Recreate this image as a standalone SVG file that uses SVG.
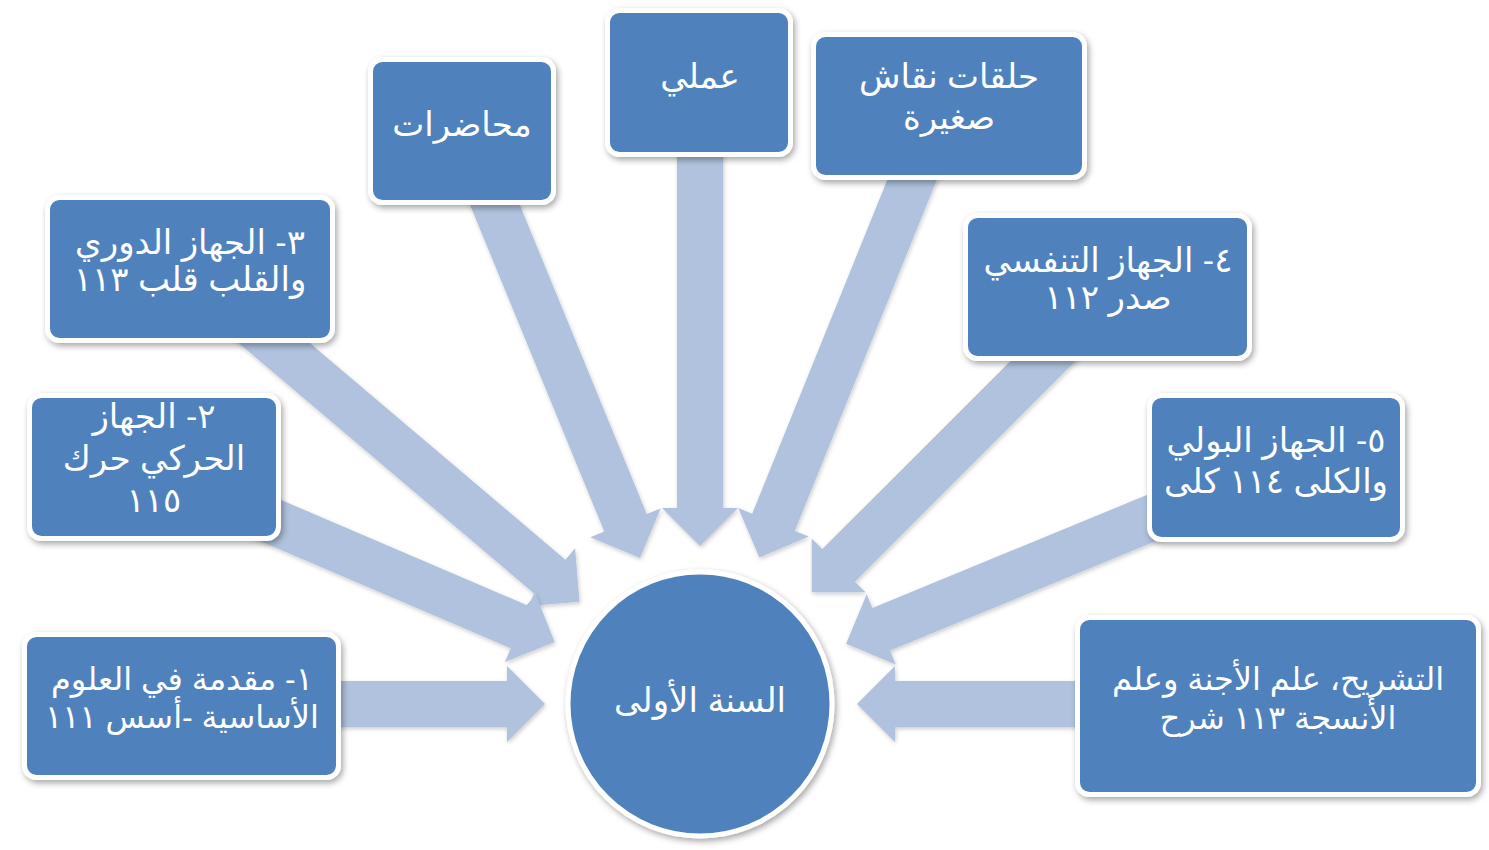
<svg xmlns="http://www.w3.org/2000/svg" width="1489" height="850" viewBox="0 0 1489 850">
<defs>
<filter id="sh" x="-10%" y="-10%" width="125%" height="130%">
<feDropShadow dx="2" dy="3" stdDeviation="3" flood-color="#000" flood-opacity="0.35"/>
</filter>
<filter id="ash" x="-10%" y="-10%" width="125%" height="130%">
<feDropShadow dx="1" dy="2" stdDeviation="2" flood-color="#000" flood-opacity="0.2"/>
</filter>
<style>
.box{fill:#4F81BD;stroke:#FFFFFF;stroke-width:5;filter:url(#sh)}
.arr{fill:#B0C2DD;filter:url(#ash)}
.t{fill:#FFFFFF;font-family:"Liberation Sans","DejaVu Sans",sans-serif;font-size:34px;text-anchor:middle;direction:rtl;unicode-bidi:embed}
.s{font-size:32px}
</style>
</defs>
<rect width="1489" height="850" fill="#FFFFFF"/>
<g id="connectors">
<polygon class="arr" points="451.1,158.7 604.3,531.6 590.4,537.3 640,558 660.7,508.4 646.8,514.1 493.7,141.3"/>
<polygon class="arr" points="677,120 677,508 662,508 700,546 738,508 723,508 723,120"/>
<polygon class="arr" points="902.8,141.4 752.2,513.7 738.3,508.1 759.3,557.5 808.7,536.6 794.8,530.9 945.4,158.6"/>
<polygon class="arr" points="208.6,317.5 535.6,594.7 525.9,606.2 579.5,601.8 575.1,548.2 565.4,559.7 238.4,282.5"/>
<polygon class="arr" points="191.0,511.4 510.8,648.2 504.9,661.9 554.7,641.9 534.7,592.1 528.8,605.9 209.0,469.1"/>
<polygon class="arr" points="250,681 507,681 507,666 545,704 507,742 507,727 250,727"/>
<polygon class="arr" points="1067.7,303.7 822.3,549.1 811.7,538.5 811.7,592.3 865.5,592.3 854.9,581.7 1100.3,336.3"/>
<polygon class="arr" points="1191.2,476.7 872.4,608.0 866.7,594.2 846.1,643.8 895.7,664.4 890.0,650.6 1208.8,519.3"/>
<polygon class="arr" points="1150,681 895,681 895,666 857,704 895,742 895,727 1150,727"/>
</g>
<g id="center">
<circle class="box" cx="700" cy="704" r="132"/>
<text class="t" x="700" y="712">السنة الأولى</text>
</g>
<g id="n-lectures">
<rect class="box" x="370.5" y="59.5" width="183" height="143" rx="12"/>
<text class="t" x="462" y="136">محاضرات</text>
</g>
<g id="n-practical">
<rect class="box" x="607.5" y="10.5" width="183" height="144" rx="12"/>
<text class="t" x="700" y="88">عملي</text>
</g>
<g id="n-discussion">
<rect class="box" x="813.5" y="34.5" width="271" height="143" rx="12"/>
<text class="t" x="949" y="88">حلقات نقاش</text>
<text class="t" x="949" y="129">صغيرة</text>
</g>
<g id="n-3">
<rect class="box" x="47.5" y="197.5" width="285" height="143" rx="12"/>
<text class="t" x="190" y="254">٣- الجهاز الدوري</text>
<text class="t" x="190" y="291">والقلب قلب ١١٣</text>
</g>
<g id="n-4">
<rect class="box" x="965.5" y="215.5" width="284" height="143" rx="12"/>
<text class="t" x="1108" y="272">٤- الجهاز التنفسي</text>
<text class="t" x="1108" y="309">صدر ١١٢</text>
</g>
<g id="n-2">
<rect class="box" x="29.5" y="395.5" width="249" height="143" rx="12"/>
<text class="t" x="154" y="428">٢- الجهاز</text>
<text class="t" x="154" y="470">الحركي حرك</text>
<text class="t" x="154" y="512">١١٥</text>
</g>
<g id="n-5">
<rect class="box" x="1149.5" y="395.5" width="253" height="144" rx="12"/>
<text class="t" x="1276" y="452">٥- الجهاز البولي</text>
<text class="t" x="1276" y="493">والكلى ١١٤ كلى</text>
</g>
<g id="n-1">
<rect class="box" x="24.5" y="634.5" width="314" height="143" rx="12"/>
<text class="t s" x="182" y="690">١- مقدمة في العلوم</text>
<text class="t s" x="182" y="728">الأساسية -أسس ١١١</text>
</g>
<g id="n-anatomy">
<rect class="box" x="1077.5" y="617.5" width="401" height="177" rx="12"/>
<text class="t s" x="1278" y="690">التشريح، علم الأجنة وعلم</text>
<text class="t s" x="1278" y="729">الأنسجة ١١٣ شرح</text>
</g>
</svg>
